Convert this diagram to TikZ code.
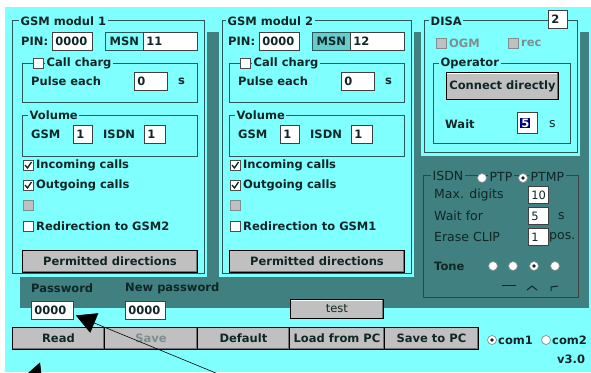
\documentclass[tikz,border=0pt]{standalone}
\usepackage{fontspec}
\setmainfont{DejaVu Sans}
\usetikzlibrary{arrows.meta}

\definecolor{win}{HTML}{80FFFF}
\definecolor{panel}{HTML}{408080}
\definecolor{edge}{HTML}{2A5858}
\definecolor{btn}{HTML}{C0C0C0}
\definecolor{ink}{HTML}{102626}
\definecolor{dim}{HTML}{7C8E8E}
\definecolor{sel}{HTML}{000080}

\begin{document}
\begin{tikzpicture}[x=1pt, y=-1pt,
  every node/.style={inner sep=0pt, text=ink, font=\fontsize{11.5}{13}\selectfont\bfseries},
  lbl/.style={anchor=west},
  thinlbl/.style={anchor=west, font=\fontsize{12.5}{14}\selectfont},
  title/.style={anchor=west, fill=win, inner xsep=1.5pt, inner ysep=1pt},
  dtitle/.style={thinlbl, fill=panel, inner xsep=1.5pt, inner ysep=1pt},
  frame/.style={draw=edge, line width=0.9pt},
  field/.style={anchor=west, draw=black!75, fill=white, line width=0.8pt,
    minimum height=18pt, inner xsep=3pt, align=left},
  msnbox/.style={anchor=west, draw=edge, fill=win, line width=0.8pt,
    minimum height=18pt, minimum width=38pt},
  btn/.style={anchor=west, draw=black, fill=btn, line width=0.9pt, minimum height=22pt,
    path picture={
      \draw[white, line width=2pt] (path picture bounding box.south west)
        -- (path picture bounding box.north west) -- (path picture bounding box.north east);
      \draw[black!55, line width=2pt] (path picture bounding box.south west)
        -- (path picture bounding box.south east) -- (path picture bounding box.north east);}},
  chk/.style={draw=black!70, fill=white, line width=0.8pt, minimum size=10pt},
  ticked/.style={chk, path picture={
      \draw[ink, line width=1.3pt] ([shift={(2pt,-5pt)}]path picture bounding box.north west)
        -- ([shift={(4.5pt,-8pt)}]path picture bounding box.north west)
        -- ([shift={(8.5pt,-2pt)}]path picture bounding box.north west);}},
  off/.style={chk, draw=dim, fill=btn},
  radio/.style={circle, draw=black!45, fill=white, line width=0.7pt, minimum size=9pt},
  picked/.style={radio, path picture={\fill[ink] (path picture bounding box.center) circle (1.8pt);}},
  callout/.style={-{Triangle[length=20pt, width=21pt]}, line width=0.6pt, black}]

\useasboundingbox (0,0) rectangle (591,372);
\clip (0,0) rectangle (591,372);

% window and panels
\fill[white] (0,0) rectangle (591,372);
\fill[win] (5,7) rectangle (591,372);
\fill[panel] (20,32) rectangle (589,308);
\fill[win] (8,7) rectangle (207,277);
\fill[win] (219,7) rectangle (414,277);
\fill[win] (421,7) rectangle (580,156);

% GSM module 1
\draw[frame] (12,20) rectangle (204,273);
\draw[frame] (22,63) rectangle (197,102);
\draw[frame] (22,115) rectangle (197,156);
\node[title] (g1) at (19,21) {GSM modul 1};
\node[lbl] (pinl1) at (21,41) {PIN:};
\node[field, text width=34pt] (pin1) at (52,41) {0000};
\node[msnbox] (msnl1) at (105,41) {MSN};
\node[field, text width=48pt] (msn1) at (143,41) {11};
\node[chk] (cc1) at (38,63) {};
\node[title] (ccl1) at (45,63) {Call charg};
\node[lbl] (pl1) at (31,81) {Pulse each};
\node[field, text width=27pt] (pf1) at (134,81) {0};
\node[lbl] (ps1) at (178,81) {s};
\node[title] (vl1) at (28,115) {Volume};
\node[lbl] (vg1) at (31,134) {GSM};
\node[field, text width=13pt] (vgf1) at (73,134) {1};
\node[lbl] (vi1) at (103,134) {ISDN};
\node[field, text width=15pt] (vif1) at (144,134) {1};
\node[ticked] (in1) at (28,165) {};
\node[lbl] (inl1) at (36,165) {Incoming calls};
\node[ticked] (out1) at (28,185) {};
\node[lbl] (outl1) at (36,185) {Outgoing calls};
\node[off] (x1) at (28,205) {};
\node[chk] (rd1) at (28,226) {};
\node[lbl] (rdl1) at (36,226) {Redirection to GSM2};
\node[btn, minimum width=175pt] (perm1) at (22,261) {Permitted directions};

% GSM module 2
\begin{scope}[xshift=207pt]
\draw[frame] (15,20) rectangle (204,273);
\draw[frame] (22,63) rectangle (197,102);
\draw[frame] (22,115) rectangle (197,156);
\node[title] (g2) at (19,21) {GSM modul 2};
\node[lbl] (pinl2) at (21,41) {PIN:};
\node[field, text width=34pt] (pin2) at (52,41) {0000};
\node[msnbox, fill=win!60!panel] (msnl2) at (105,41) {MSN};
\node[field, text width=48pt] (msn2) at (143,41) {12};
\node[chk] (cc2) at (38,63) {};
\node[title] (ccl2) at (45,63) {Call charg};
\node[lbl] (pl2) at (31,81) {Pulse each};
\node[field, text width=27pt] (pf2) at (134,81) {0};
\node[lbl] (ps2) at (178,81) {s};
\node[title] (vl2) at (28,115) {Volume};
\node[lbl] (vg2) at (31,134) {GSM};
\node[field, text width=13pt] (vgf2) at (73,134) {1};
\node[lbl] (vi2) at (103,134) {ISDN};
\node[field, text width=15pt] (vif2) at (144,134) {1};
\node[ticked] (in2) at (28,165) {};
\node[lbl] (inl2) at (36,165) {Incoming calls};
\node[ticked] (out2) at (28,185) {};
\node[lbl] (outl2) at (36,185) {Outgoing calls};
\node[off] (x2) at (28,205) {};
\node[chk] (rd2) at (28,226) {};
\node[lbl] (rdl2) at (36,226) {Redirection to GSM1};
\node[btn, minimum width=175pt] (perm2) at (22,261) {Permitted directions};
\end{scope}

% DISA
\draw[frame] (424,20) rectangle (577,152);
\draw[frame] (433,63) rectangle (570,143);
\node[title] (disa) at (429,21) {DISA};
\node[field, text width=13pt] (disan) at (548,19) {2};
\node[off] (ogm) at (441,43) {};
\node[lbl, text=dim] (ogml) at (449,43) {OGM};
\node[off] (rec) at (513,43) {};
\node[lbl, text=dim] (recl) at (521,43) {rec};
\node[title] (opl) at (439,63) {Operator};
\node[btn, minimum width=112pt, minimum height=27pt] (conn) at (446,86) {Connect directly};
\node[lbl] (waitl) at (445,124) {Wait};
\node[field, text width=14pt, minimum height=21pt] (waitf) at (517,123)
  {{\fboxsep=1pt\colorbox{sel}{\textcolor{white}{5}}}};
\node[thinlbl] (waits) at (549,124) {s};

% ISDN
\draw[frame, draw=black!75] (423,175) rectangle (578,297);
\node[dtitle] (isdn) at (431,176) {ISDN};
\node[radio] (ptp) at (482,178) {};
\node[dtitle] (ptpl) at (488,177) {PTP};
\node[picked] (ptmp) at (523,178) {};
\node[dtitle] (ptmpl) at (529,177) {PTMP};
\node[thinlbl] (maxl) at (434,195) {Max. digits};
\node[field, text width=14pt, minimum height=17pt, font=\fontsize{11.5}{13}\selectfont] (maxf) at (528,195) {10};
\node[thinlbl] (wfl) at (434,216) {Wait for};
\node[field, text width=14pt, minimum height=17pt, font=\fontsize{11.5}{13}\selectfont] (wff) at (528,216) {5};
\node[thinlbl] (wfs) at (558,216) {s};
\node[thinlbl] (erl) at (434,237) {Erase CLIP};
\node[field, text width=14pt, minimum height=17pt, font=\fontsize{11.5}{13}\selectfont] (erf) at (528,237) {1};
\node[thinlbl] (pos) at (549,237) {pos.};
\node[lbl] (tone) at (434,266) {Tone};
\node[radio] (t1) at (493,266) {};
\node[radio] (t2) at (513,266) {};
\node[picked] (t3) at (534,266) {};
\node[radio] (t4) at (555,266) {};
\draw[ink, line width=1pt] (502,285) -- (516,285);
\draw[ink, line width=1pt] (527,290) -- (532,286) -- (537,290);
\draw[ink, line width=1pt] (551,291) -- (551,287) -- (558,286);

% passwords and test
\node[lbl] (pwl) at (31,288) {Password};
\node[field, text width=36pt] (pw) at (31,310) {0000};
\node[lbl] (npwl) at (125,288) {New password};
\node[field, text width=34pt] (npw) at (125,310) {0000};
\node[btn, minimum width=93pt, minimum height=19pt, font=\fontsize{11.5}{13}\selectfont] (test) at (290,309) {test};

% button row
\node[btn, minimum width=92pt] (read) at (12,338) {Read};
\node[btn, minimum width=93pt, text=dim] (save) at (104,338) {Save};
\node[btn, minimum width=92pt] (dflt) at (197,338) {Default};
\node[btn, minimum width=95pt] (load) at (289,338) {Load from PC};
\node[btn, minimum width=94pt] (savepc) at (384,338) {Save to PC};
\node[picked] (com1) at (492,340) {};
\node[lbl] (com1l) at (498,340) {com1};
\node[radio] (com2) at (546,340) {};
\node[lbl] (com2l) at (552,340) {com2};
\node[lbl] (ver) at (557,359) {v3.0};

% pointers
\coordinate (tailA) at (228,378);
\coordinate (tailB) at (5,455);
\draw[callout] (tailA) -- ([shift={(2pt,4pt)}]pw.south east);
\draw[callout] (tailB) -- ([shift={(28pt,-13pt)}]read.south west);
\end{tikzpicture}
\end{document}
